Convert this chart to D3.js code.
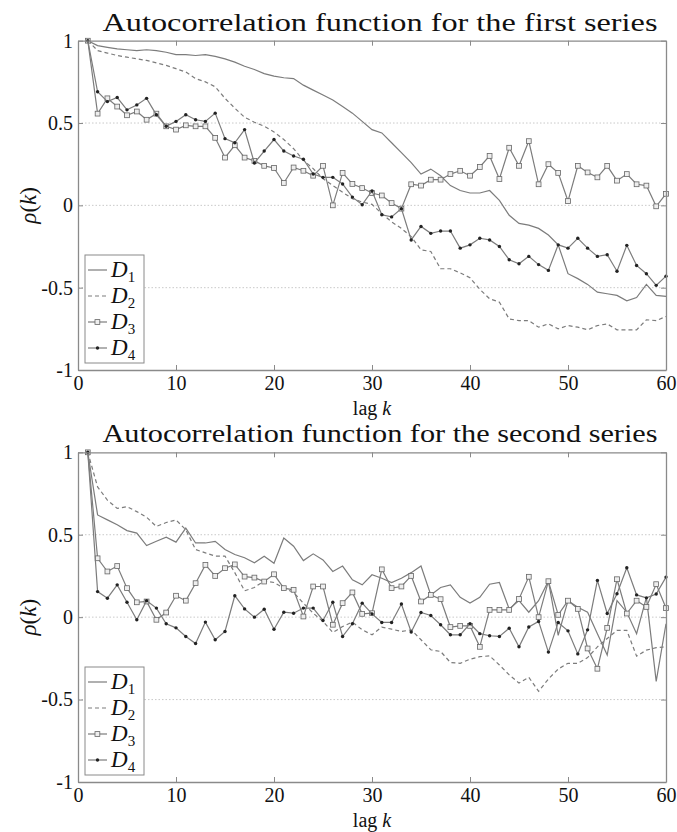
<!DOCTYPE html>
<html>
<head>
<meta charset="utf-8">
<script src="https://cdn.jsdelivr.net/npm/d3@7"></script>
<style>
  body { margin: 0; background: #fff; }
  svg { display: block; }
  svg text { font-family: "Liberation Serif", "Times New Roman", Tinos, "DejaVu Serif", "Noto Serif", serif; fill: #111; }
</style>
</head>
<body>
<svg id="chart"></svg>
<script>
// autocorrelation values, lags 1..60
const lags = d3.range(1, 61);
const xTicks = [0, 10, 20, 30, 40, 50, 60];
const yTicks = [-1, -0.5, 0, 0.5, 1];
const gridTicks = [-0.5, 0, 0.5];
const seriesNames = ["1", "2", "3", "4"];

const firstD1 = [1, 0.97, 0.96, 0.95, 0.945, 0.94, 0.945, 0.94, 0.93, 0.915,
  0.915, 0.91, 0.915, 0.905, 0.89, 0.87, 0.845, 0.825, 0.80, 0.785,
  0.775, 0.77, 0.73, 0.70, 0.67, 0.64, 0.60, 0.56, 0.51, 0.46,
  0.44, 0.38, 0.32, 0.26, 0.19, 0.22, 0.18, 0.12, 0.09, 0.075,
  0.075, 0.09, 0.03, -0.06, -0.11, -0.12, -0.14, -0.18, -0.24, -0.415,
  -0.445, -0.48, -0.527, -0.537, -0.547, -0.58, -0.56, -0.48, -0.547, -0.553];
const firstD2 = [1, 0.94, 0.925, 0.91, 0.90, 0.89, 0.88, 0.865, 0.85, 0.83,
  0.81, 0.77, 0.75, 0.72, 0.65, 0.59, 0.535, 0.505, 0.48, 0.446,
  0.40, 0.344, 0.274, 0.223, 0.162, 0.12, 0.08, 0.04, 0.02, 0.006,
  -0.05, -0.10, -0.14, -0.19, -0.27, -0.28, -0.385, -0.385, -0.41, -0.44,
  -0.51, -0.567, -0.588, -0.69, -0.70, -0.70, -0.74, -0.72, -0.75, -0.73,
  -0.74, -0.756, -0.73, -0.72, -0.756, -0.756, -0.756, -0.695, -0.70, -0.675];
const firstD3 = [1, 0.557, 0.65, 0.60, 0.547, 0.57, 0.52, 0.557, 0.48, 0.46,
  0.486, 0.48, 0.48, 0.41, 0.29, 0.365, 0.29, 0.27, 0.24, 0.227,
  0.136, 0.23, 0.21, 0.18, 0.24, 0.0, 0.197, 0.13, 0.105, 0.075,
  0.06, 0.014, -0.02, 0.128, 0.12, 0.156, 0.156, 0.19, 0.21, 0.18,
  0.233, 0.30, 0.16, 0.35, 0.24, 0.39, 0.128, 0.25, 0.197, 0.026,
  0.24, 0.20, 0.17, 0.24, 0.15, 0.19, 0.128, 0.12, -0.006, 0.07];
const firstD4 = [1, 0.69, 0.63, 0.655, 0.58, 0.61, 0.65, 0.55, 0.48, 0.51,
  0.55, 0.52, 0.51, 0.56, 0.405, 0.38, 0.46, 0.257, 0.33, 0.40,
  0.33, 0.30, 0.28, 0.19, 0.17, 0.17, 0.13, 0.05, 0.004, 0.087,
  -0.057, -0.07, -0.02, -0.21, -0.128, -0.17, -0.156, -0.156, -0.26, -0.24,
  -0.20, -0.21, -0.25, -0.33, -0.355, -0.31, -0.36, -0.395, -0.24, -0.26,
  -0.20, -0.26, -0.31, -0.30, -0.40, -0.243, -0.365, -0.415, -0.486, -0.43];

const secondD1 = [1, 0.62, 0.59, 0.56, 0.525, 0.51, 0.434, 0.46, 0.485, 0.455,
  0.54, 0.45, 0.45, 0.46, 0.41, 0.38, 0.36, 0.33, 0.37, 0.327,
  0.48, 0.43, 0.343, 0.384, 0.347, 0.277, 0.31, 0.226, 0.196, 0.257,
  0.236, 0.21, 0.236, 0.27, 0.31, 0.135, 0.18, 0.196, 0.12, 0.085,
  0.12, 0.20, 0.21, 0.05, 0.10, 0.03, 0.10, 0.22, -0.11, 0.10,
  0.06, 0.03, -0.10, -0.23, 0.10, 0.03, -0.10, 0.12, -0.39, -0.04];
const secondD2 = [1, 0.79, 0.71, 0.66, 0.67, 0.64, 0.606, 0.55, 0.574, 0.59,
  0.53, 0.41, 0.39, 0.37, 0.37, 0.27, 0.16, 0.18, 0.22, 0.21,
  0.175, 0.15, 0.085, 0.024, -0.026, -0.093, -0.057, -0.03, -0.077, -0.107,
  -0.06, -0.073, -0.087, -0.077, -0.137, -0.198, -0.208, -0.275, -0.28, -0.255,
  -0.24, -0.235, -0.29, -0.35, -0.40, -0.365, -0.45, -0.375, -0.315, -0.28,
  -0.28, -0.245, -0.18, -0.13, -0.08, -0.08, -0.237, -0.20, -0.185, -0.18];
const secondD3 = [1, 0.357, 0.277, 0.31, 0.176, 0.09, 0.095, -0.016, 0.028, 0.13,
  0.10, 0.206, 0.317, 0.25, 0.297, 0.32, 0.246, 0.24, 0.216, 0.26,
  0.176, 0.166, 0.004, 0.186, 0.186, -0.046, 0.085, 0.15, 0.02, 0.024,
  0.29, 0.176, 0.186, 0.25, 0.095, 0.135, 0.109, -0.06, -0.053, -0.053,
  -0.18, 0.044, 0.044, 0.044, 0.11, 0.245, 0.0, 0.218, 0.014, 0.10,
  0.05, -0.19, -0.313, -0.065, 0.23, 0.022, 0.10, 0.062, 0.20, 0.055];
const secondD4 = [1, 0.155, 0.115, 0.196, 0.09, -0.016, 0.10, 0.055, -0.04, -0.065,
  -0.117, -0.16, -0.03, -0.137, -0.087, 0.13, 0.05, 0.0, 0.048, -0.073,
  0.03, 0.024, 0.055, 0.055, -0.02, 0.09, -0.117, -0.04, 0.085, 0.02,
  -0.032, -0.032, 0.08, -0.09, 0.028, 0.01, -0.046, -0.107, -0.107, -0.04,
  -0.10, -0.113, -0.117, -0.067, -0.18, -0.06, -0.026, -0.212, -0.032, -0.083,
  -0.223, -0.077, 0.223, 0.022, 0.142, 0.30, 0.135, 0.117, 0.14, 0.243];

const width = 677;
const height = 832;
const marginLeft = 78;
const marginRight = 11;
const lineColor = "#7c7c7c";
const axisColor = "#8a8a8a";
const serif = "'Liberation Serif', 'Times New Roman', Tinos, 'DejaVu Serif', 'Noto Serif', serif";

const svg = d3.select("#chart")
    .attr("width", width)
    .attr("height", height)
    .attr("viewBox", [0, 0, width, height])
    .attr("font-family", serif);

const x = d3.scaleLinear([0, 60], [marginLeft, width - marginRight]);

function panel(title, top, bottom, D1, D2, D3, D4) {
  const y = d3.scaleLinear([-1, 1], [bottom, top]);
  const g = svg.append("g");

  // dotted grid at 0.5, 0, -0.5
  g.append("g")
    .selectAll("line")
    .data(gridTicks)
    .join("line")
      .attr("x1", x(0)).attr("x2", x(60))
      .attr("y1", d => y(d)).attr("y2", d => y(d))
      .attr("stroke", "#bbb")
      .attr("stroke-width", 0.8)
      .attr("stroke-dasharray", "1.5,2");

  const series = [
    {v: D1, dash: null, mark: null},
    {v: D2, dash: "4,3", mark: null},
    {v: D3, dash: null, mark: "square"},
    {v: D4, dash: null, mark: "dot"}
  ];

  const line = d3.line().x((d, i) => x(lags[i])).y(d => y(d));

  series.forEach(s => {
    g.append("path")
      .attr("d", line(s.v))
      .attr("fill", "none")
      .attr("stroke", lineColor)
      .attr("stroke-width", 1.2)
      .attr("stroke-dasharray", s.dash);
    if (s.mark === "square") {
      g.append("g").selectAll("rect")
        .data(s.v)
        .join("rect")
          .attr("x", (d, i) => x(lags[i]) - 2.4)
          .attr("y", d => y(d) - 2.4)
          .attr("width", 4.8).attr("height", 4.8)
          .attr("fill", "#eee")
          .attr("stroke", "#666")
          .attr("stroke-width", 0.8);
    }
    if (s.mark === "dot") {
      g.append("g").selectAll("circle")
        .data(s.v)
        .join("circle")
          .attr("cx", (d, i) => x(lags[i]))
          .attr("cy", d => y(d))
          .attr("r", 1.7)
          .attr("fill", "#222");
    }
  });

  // box axes, ticks pointing inward
  const styleAxis = a => a.attr("font-family", serif)
    .call(s => s.select(".domain").attr("stroke", axisColor).attr("stroke-width", 1.3))
    .call(s => s.selectAll(".tick line").attr("stroke", axisColor))
    .call(s => s.selectAll("text").attr("font-size", 20).attr("fill", "#111"));

  g.append("g")
    .attr("transform", `translate(0,${bottom})`)
    .call(d3.axisBottom(x).tickValues(xTicks).tickSize(-5).tickPadding(6).tickSizeOuter(0).tickFormat(d => String(d)))
    .call(styleAxis);
  g.append("g")
    .attr("transform", `translate(0,${top})`)
    .call(d3.axisTop(x).tickValues(xTicks).tickSize(-5).tickSizeOuter(0).tickFormat(""))
    .call(styleAxis);
  g.append("g")
    .attr("transform", `translate(${x(0)},0)`)
    .call(d3.axisLeft(y).tickValues(yTicks).tickSize(-5).tickPadding(5).tickSizeOuter(0).tickFormat(d => String(d)))
    .call(styleAxis);
  g.append("g")
    .attr("transform", `translate(${x(60)},0)`)
    .call(d3.axisRight(y).tickValues(yTicks).tickSize(-5).tickSizeOuter(0).tickFormat(""))
    .call(styleAxis);

  // title
  g.append("text")
    .attr("x", 380)
    .attr("y", top - 10)
    .attr("text-anchor", "middle")
    .attr("font-size", 25)
    .attr("textLength", 555)
    .attr("lengthAdjust", "spacingAndGlyphs")
    .text(title);

  // x label
  const xl = g.append("text")
    .attr("x", (x(0) + x(60)) / 2)
    .attr("y", bottom + 44.5)
    .attr("text-anchor", "middle")
    .attr("font-size", 20);
  xl.append("tspan").text("lag ");
  xl.append("tspan").attr("font-style", "italic").text("k");

  // y label
  const yl = g.append("text")
    .attr("transform", `translate(36,${(top + bottom) / 2}) rotate(-90)`)
    .attr("text-anchor", "middle")
    .attr("font-size", 23);
  yl.append("tspan").attr("font-style", "italic").text("ρ");
  yl.append("tspan").text("(");
  yl.append("tspan").attr("font-style", "italic").text("k");
  yl.append("tspan").text(")");

  // legend
  const lgTop = bottom - 115;
  const lg = g.append("g").attr("transform", `translate(${x(0) + 7},${lgTop})`);
  lg.append("rect")
    .attr("width", 59).attr("height", 108)
    .attr("fill", "#fff")
    .attr("stroke", axisColor)
    .attr("stroke-width", 1);
  series.forEach((s, i) => {
    const ry = 15 + i * 26;
    lg.append("line")
      .attr("x1", 3).attr("x2", 22)
      .attr("y1", ry).attr("y2", ry)
      .attr("stroke", lineColor)
      .attr("stroke-width", 1.2)
      .attr("stroke-dasharray", s.dash);
    if (s.mark === "square") {
      lg.append("rect").attr("x", 10).attr("y", ry - 2.4).attr("width", 4.8).attr("height", 4.8)
        .attr("fill", "#eee").attr("stroke", "#666").attr("stroke-width", 0.8);
    }
    if (s.mark === "dot") {
      lg.append("circle").attr("cx", 12.5).attr("cy", ry).attr("r", 1.7).attr("fill", "#222");
    }
    const t = lg.append("text").attr("x", 26).attr("y", ry + 7).attr("font-size", 23);
    t.append("tspan").attr("font-style", "italic").text("D");
    t.append("tspan").attr("font-size", 15).attr("dy", 5).text(seriesNames[i]);
  });
}

panel("Autocorrelation function for the first series", 40.7, 370, firstD1, firstD2, firstD3, firstD4);
panel("Autocorrelation function for the second series", 452.3, 782, secondD1, secondD2, secondD3, secondD4);
</script>
</body>
</html>
